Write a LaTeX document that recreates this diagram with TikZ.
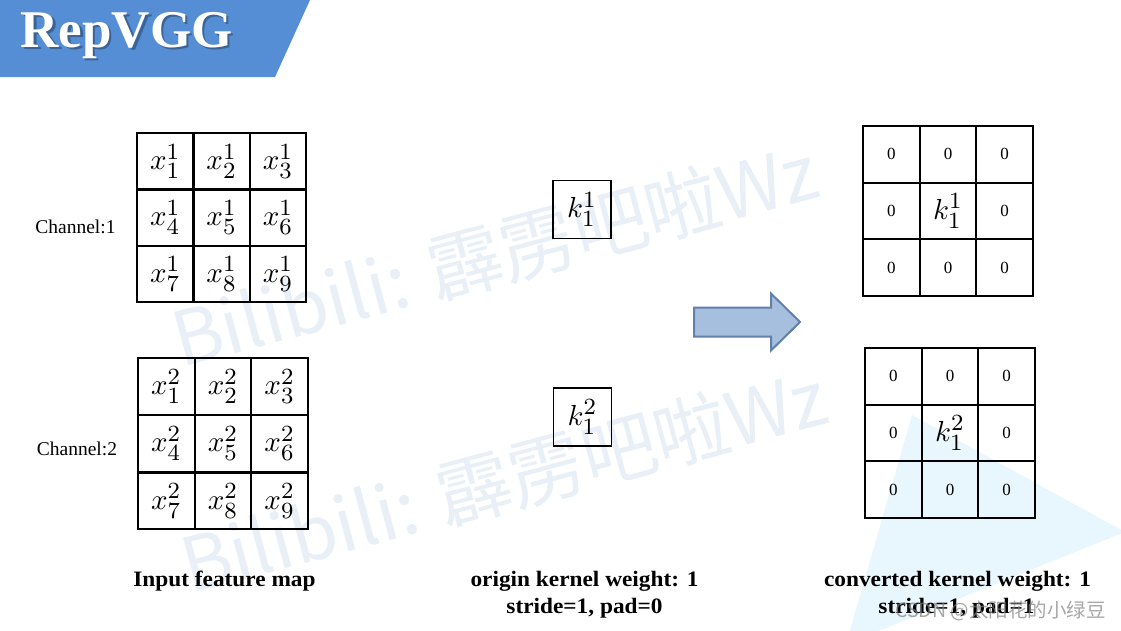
\documentclass[tikz,border=0pt]{standalone}
\usepackage{fontspec}
\setmainfont{Liberation Serif}
\newfontfamily\cjkfont{Noto Sans CJK SC}
\DeclareMathSizes{10}{10}{7.8}{6}
\newcommand{\cellmath}[1]{\scalebox{2.9}{$#1$}}
\definecolor{banner}{RGB}{85,142,213}
\definecolor{wmark}{RGB}{233,239,247}
\definecolor{tri}{RGB}{232,246,253}
\definecolor{arrowfill}{RGB}{167,191,222}
\definecolor{arrowline}{RGB}{98,128,172}
\tikzset{
  cell/.style={draw=black, line width=1.8pt, minimum size=56.67pt, inner sep=0pt, font=\fontsize{10}{10}\selectfont},
  zcell/.style={cell, font=\fontsize{17}{17}\selectfont},
  kbox/.style={draw=black, line width=1.8pt, minimum size=58pt, inner sep=0pt, font=\fontsize{10}{10}\selectfont},
  lbl/.style={anchor=base, inner sep=0pt, font=\fontsize{22}{22}\selectfont\bfseries},
  chan/.style={anchor=base, inner sep=0pt, font=\fontsize{19.5}{19.5}\selectfont},
  wm/.style={anchor=base west, inner sep=0pt, rotate=15, text=wmark, font=\cjkfont\fontsize{75}{75}\selectfont}
}
\begin{document}
\begin{tikzpicture}[x=1pt,y=-1pt]
\useasboundingbox (0,0) rectangle (1121,630);
% background decorations
\fill[tri] (912,415) -- (1125,532) -- (846,644) -- cycle;
\node[wm] (wm1) at (181,368) {Bilibili: 霹雳吧啦Wz};
\node[wm] (wm2) at (190,594) {Bilibili: 霹雳吧啦Wz};
% title banner
\fill[banner] (0,0) -- (310,0) -- (275,77) -- (0,77) -- cycle;
\node[anchor=base west, inner sep=0pt, text=black, opacity=0.3, font=\fontsize{53}{53}\selectfont\bfseries] (titleshadow) at (23,49.5) {RepVGG};
\node[anchor=base west, inner sep=0pt, text=white, font=\fontsize{53}{53}\selectfont\bfseries] (title) at (20.5,47) {RepVGG};
% input feature maps
\foreach \r in {0,1,2}{\foreach \c in {0,1,2}{
  \pgfmathtruncatemacro\idx{3*\r+\c+1}
  \node[cell] (a\idx) at ({137+28.33+56.33*\c},{133+28.33+56.33*\r}) {\cellmath{x_{\idx}^{1}}};
  \node[cell] (b\idx) at ({138+28.33+56.67*\c},{358+28.33+57.33*\r}) {\cellmath{x_{\idx}^{2}}};
}}
\node[chan] (ch1) at (75.5,233) {Channel:1};
\node[chan] (ch2) at (77,455) {Channel:2};
% origin kernels
\node[kbox] (k1) at (582,209.5) {\cellmath{k_1^1}};
\node[kbox] (k2) at (582.5,417) {\cellmath{k_1^2}};
% block arrow
\draw[arrowline, fill=arrowfill, line width=2pt, line join=miter]
  (694,307.5) -- (771,307.5) -- (771,293.5) -- (800,322) -- (771,350.5) -- (771,336.5) -- (694,336.5) -- cycle;
% converted kernels
\foreach \r in {0,1,2}{\foreach \c in {0,1,2}{
  \pgfmathtruncatemacro\idx{3*\r+\c+1}
  \node[zcell] (c\idx) at ({863+28.33+56.67*\c},{126+28.33+56.67*\r}) {\ifnum\idx=5 {\fontsize{10}{10}\selectfont\cellmath{k_1^1}}\else 0\fi};
  \node[zcell] (d\idx) at ({865+28.33+56.67*\c},{348+28.33+56.67*\r}) {\ifnum\idx=5 {\fontsize{10}{10}\selectfont\cellmath{k_1^2}}\else 0\fi};
}}
% captions
\node[lbl] (cap1) at (224.5,586) {\scalebox{1.06}[1]{Input feature map}};
\node[lbl] (cap2) at (584.5,586) {\scalebox{1.06}[1]{origin kernel weight: 1}};
\node[lbl] (cap2b) at (584.5,613) {\scalebox{1.06}[1]{stride=1, pad=0}};
\node[lbl] (cap3) at (957.5,586) {\scalebox{1.06}[1]{converted kernel weight: 1}};
\node[lbl] (cap3b) at (956.5,613) {\scalebox{1.06}[1]{stride=1, pad=1}};
% CSDN watermark
\node[anchor=base west, inner sep=0pt, text=gray, opacity=0.7, font=\cjkfont\fontsize{19.5}{19.5}\selectfont] (csdn) at (895,617) {CSDN @太阳花的小绿豆};
\end{tikzpicture}
\end{document}
